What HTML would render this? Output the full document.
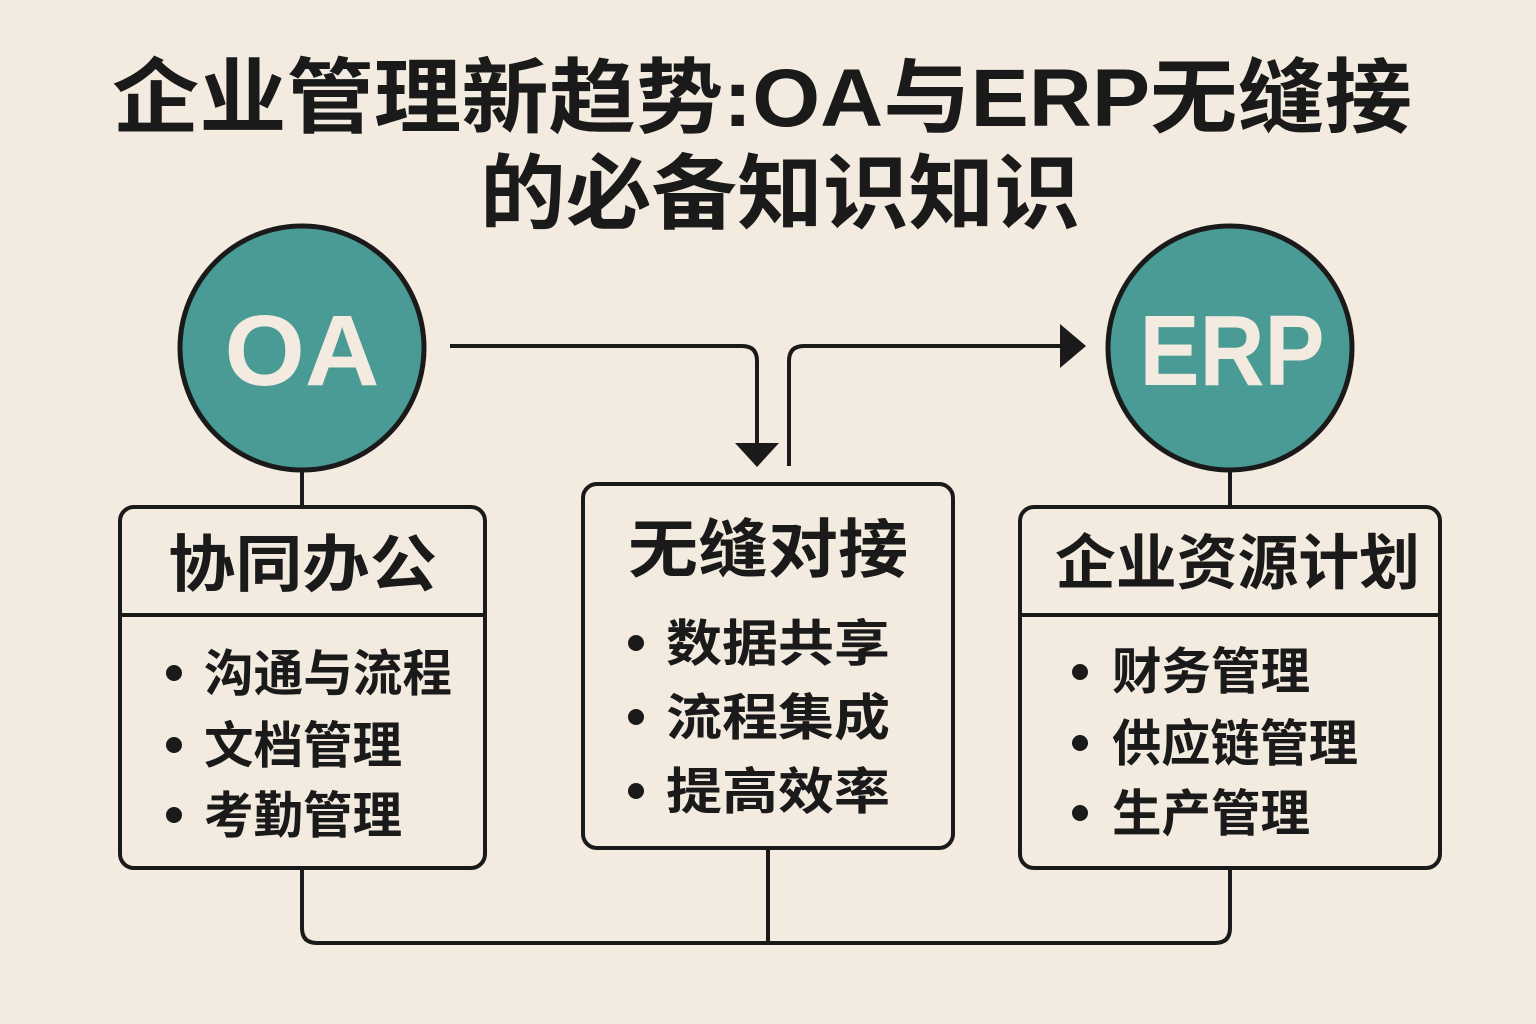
<!DOCTYPE html>
<html><head><meta charset="utf-8"><style>
html,body{margin:0;padding:0;background:#f3ebdf;}
svg{display:block}
text{font-family:"Liberation Sans","Noto Sans CJK SC",sans-serif;font-weight:bold;fill:#1a1a1a}
</style></head><body>
<svg width="1536" height="1024" viewBox="0 0 1536 1024">
<rect width="1536" height="1024" fill="#f3ebdf"/>
<text x="762" y="126" font-size="82" text-anchor="middle" textLength="1300" lengthAdjust="spacingAndGlyphs">企业管理新趋势:OA与ERP无缝接</text>
<text x="780" y="222" font-size="82" text-anchor="middle" textLength="600" lengthAdjust="spacingAndGlyphs">的必备知识知识</text>
<g stroke="#1a1a1a" stroke-width="4" fill="none">
<line x1="302" y1="470" x2="302" y2="507"/>
<line x1="1230" y1="470" x2="1230" y2="507"/>
<path d="M450 346 H742 Q757 346 757 361 V445"/>
<path d="M789 466 V361 Q789 346 804 346 H1062"/>
<path d="M302 868 V928 Q302 943 317 943 H1215 Q1230 943 1230 928 V868"/>
<line x1="768" y1="848" x2="768" y2="943"/>
<rect x="120" y="507" width="365" height="361" rx="14" fill="#f3ebdf"/>
<line x1="120" y1="615" x2="485" y2="615"/>
<rect x="583" y="484" width="370" height="364" rx="14" fill="#f3ebdf"/>
<rect x="1020" y="507" width="420" height="361" rx="14" fill="#f3ebdf"/>
<line x1="1020" y1="615" x2="1440" y2="615"/>
</g>
<polygon points="735,443 779,443 757,467" fill="#1a1a1a"/>
<polygon points="1060,324 1060,368 1086,346" fill="#1a1a1a"/>
<circle cx="302" cy="348" r="122" fill="#4a9a96" stroke="#1a1a1a" stroke-width="5"/>
<circle cx="1230" cy="348" r="122" fill="#4a9a96" stroke="#1a1a1a" stroke-width="5"/>
<text x="302" y="385" font-size="100" text-anchor="middle" style="fill:#f3ebdf" textLength="155" lengthAdjust="spacingAndGlyphs">OA</text>
<text x="1232" y="385" font-size="100" text-anchor="middle" style="fill:#f3ebdf" textLength="185" lengthAdjust="spacingAndGlyphs">ERP</text>
<text x="168" y="586" font-size="62" textLength="269" lengthAdjust="spacingAndGlyphs">协同办公</text>
<text x="628" y="572" font-size="64" textLength="280" lengthAdjust="spacingAndGlyphs">无缝对接</text>
<text x="1055" y="584" font-size="60" textLength="365" lengthAdjust="spacingAndGlyphs">企业资源计划</text>
<g fill="#1a1a1a">
<circle cx="174" cy="673" r="8"/><circle cx="174" cy="745" r="8"/><circle cx="174" cy="815" r="8"/>
<circle cx="636" cy="643" r="8"/><circle cx="636" cy="717" r="8"/><circle cx="636" cy="791" r="8"/>
<circle cx="1080" cy="672" r="8"/><circle cx="1080" cy="743" r="8"/><circle cx="1080" cy="813" r="8"/>
</g>
<g font-size="50">
<text x="204" y="691" textLength="248" lengthAdjust="spacingAndGlyphs">沟通与流程</text>
<text x="204" y="763" textLength="198" lengthAdjust="spacingAndGlyphs">文档管理</text>
<text x="204" y="833" textLength="198" lengthAdjust="spacingAndGlyphs">考勤管理</text>
<text x="666" y="661" textLength="224" lengthAdjust="spacingAndGlyphs">数据共享</text>
<text x="666" y="735" textLength="224" lengthAdjust="spacingAndGlyphs">流程集成</text>
<text x="666" y="809" textLength="224" lengthAdjust="spacingAndGlyphs">提高效率</text>
<text x="1112" y="689" textLength="198" lengthAdjust="spacingAndGlyphs">财务管理</text>
<text x="1112" y="761" textLength="246" lengthAdjust="spacingAndGlyphs">供应链管理</text>
<text x="1112" y="831" textLength="198" lengthAdjust="spacingAndGlyphs">生产管理</text>
</g>
</svg>
</body></html>
